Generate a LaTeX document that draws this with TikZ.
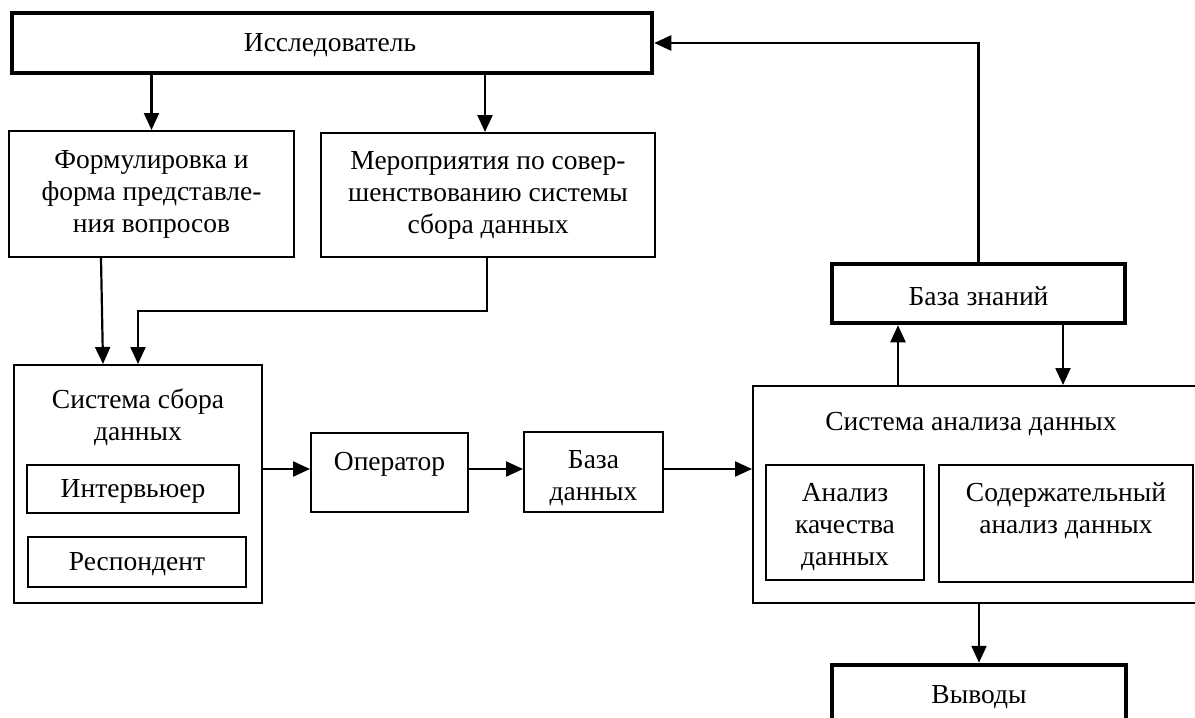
\documentclass[tikz,border=0pt]{standalone}
\usepackage{fontspec}
\setmainfont{Liberation Serif}
\usetikzlibrary{arrows.meta,calc}
\tikzset{
  box/.style={draw, line width=2pt, inner sep=0pt, rectangle},
  thickbox/.style={draw, line width=4.5pt, inner sep=0pt, rectangle},
  txt/.style={inner sep=0pt, align=center, font=\fontsize{27.5}{32}\selectfont},
  arr/.style={line width=2.2pt, -{Triangle[length=17pt,width=15pt]}},
  ln/.style={line width=2pt}
}
\begin{document}
\begin{tikzpicture}[x=1pt,y=-1pt]
\useasboundingbox (0,0) rectangle (1195,718);
% boxes
\node[thickbox, minimum width=640pt, minimum height=60pt] (res) at (332,43) {};
\node[txt] (rest) at (330,45) {Исследователь};
\node[box, minimum width=285pt, minimum height=126pt] (form) at (151.5,194) {};
\node[txt] (formt) at (151.5,194) {Формулировка и\\форма представле-\\ния вопросов};
\node[box, minimum width=334pt, minimum height=124pt] (mer) at (488,195) {};
\node[txt] (mert) at (488,195) {Мероприятия по совер-\\шенствованию системы\\сбора данных};
\node[box, minimum width=248pt, minimum height=238pt] (ssd) at (138,484) {};
\node[txt] (ssdt) at (138,417) {Система сбора\\данных};
\node[box, minimum width=212pt, minimum height=48pt] (int) at (133,489) {};
\node[txt] (intt) at (133,491) {Интервьюер};
\node[box, minimum width=218pt, minimum height=50pt] (resp) at (137,562) {};
\node[txt] (respt) at (137,564) {Респондент};
\node[box, minimum width=157pt, minimum height=79pt] (oper) at (389.5,472.5) {};
\node[txt] (opert) at (389.5,464) {Оператор};
\node[box, minimum width=139pt, minimum height=80pt] (bd) at (593.5,472) {};
\node[txt] (bdt) at (593.5,478) {База\\данных};
\node[box, minimum width=447pt, minimum height=217pt] (san) at (976.5,494.5) {};
\node[txt] (sant) at (971,424) {Система анализа данных};
\node[box, minimum width=158pt, minimum height=115pt] (kach) at (845,522.5) {};
\node[txt] (kacht) at (845,527) {Анализ\\качества\\данных};
\node[box, minimum width=254pt, minimum height=117pt] (sod) at (1066,523.5) {};
\node[txt] (sodt) at (1066,511) {Содержательный\\анализ данных};
\node[thickbox, minimum width=293pt, minimum height=59pt] (bz) at (978.5,293.5) {};
\node[txt] (bzt) at (978.5,296) {База знаний};
\node[thickbox, minimum width=294pt, minimum height=60pt] (vyv) at (979,695) {};
\node[txt] (vyvt) at (979,697) {Выводы};
% helper coordinates
\coordinate (row) at (0,469);
\coordinate (elb) at (138,311);
\coordinate (colA) at (898,0);
\coordinate (colB) at (1063,0);
% connectors
\draw[arr] (form.north |- res.south) -- (form.north);
\draw[arr] ([xshift=-3pt]mer.north |- res.south) -- ([xshift=-3pt]mer.north);
\draw[arr] ($(form.south)+(-50.5,0)$) -- ($(ssd.north)+(-35,0)$);
\draw[arr] ([xshift=-1pt]mer.south) |- (elb) -- (ssd.north);
\draw[arr] (ssd.east |- row) -- (oper.west |- row);
\draw[arr] (oper.east |- row) -- (bd.west |- row);
\draw[arr] (bd.east |- row) -- (san.west |- row);
\draw[arr] (san.north -| colA) -- (bz.south -| colA);
\draw[arr] (bz.south -| colB) -- (san.north -| colB);
\draw[arr] (bz.north) |- (res.east);
\draw[arr] (san.south -| vyv.north) -- (vyv.north);
\end{tikzpicture}
\end{document}
